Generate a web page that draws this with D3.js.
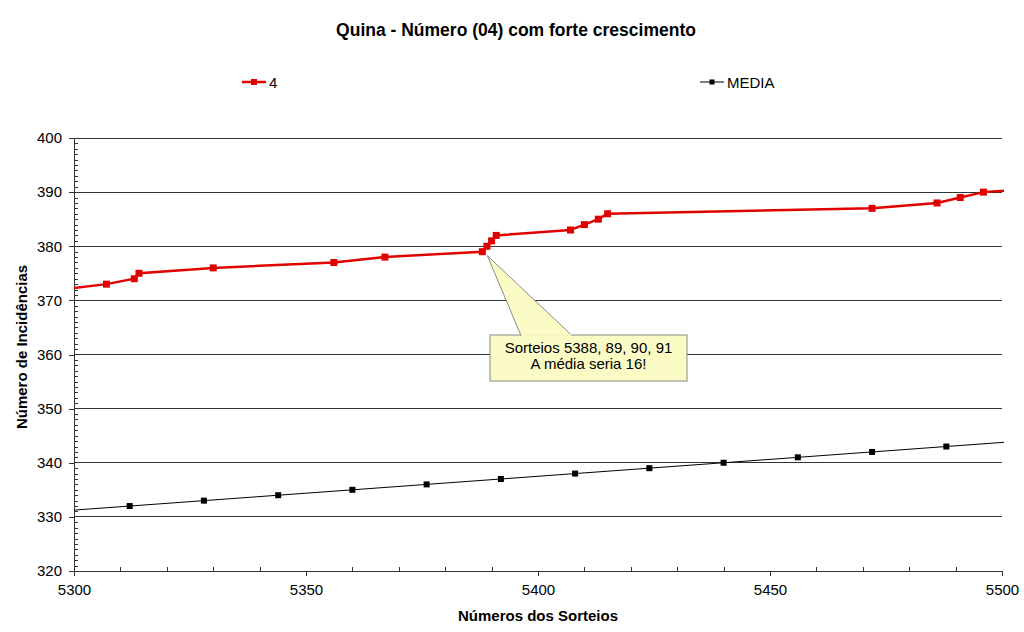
<!DOCTYPE html>
<html><head><meta charset="utf-8">
<script src="https://cdn.jsdelivr.net/npm/d3@7"></script>
<style>body{margin:0;background:#fff}svg{font-family:"Liberation Sans",Arial,sans-serif}</style>
</head><body>
<svg id="c" width="1024" height="632"></svg>
<script>
const title = "Quina - Número (04) com forte crescimento";
const xTitle = "Números dos Sorteios";
const yTitle = "Número de Incidências";
const seriesNames = ["4", "MEDIA"];
// series "4": draw number, incidence count (first/last points lie outside the axis range)
const redX = [5297, 5307, 5313, 5314, 5330, 5356, 5367, 5388, 5389, 5390, 5391, 5407, 5410, 5413, 5415, 5472, 5486, 5491, 5496, 5515];
const redY = [372, 373, 374, 375, 376, 377, 378, 379, 380, 381, 382, 383, 384, 385, 386, 387, 388, 389, 390, 391];
// series "MEDIA"
const avgX = [5296, 5312, 5328, 5344, 5360, 5376, 5392, 5408, 5424, 5440, 5456, 5472, 5488, 5504];
const avgY = [331, 332, 333, 334, 335, 336, 337, 338, 339, 340, 341, 342, 343, 344];
const xTicks = [5300, 5350, 5400, 5450, 5500];
const yTicks = [320, 330, 340, 350, 360, 370, 380, 390, 400];
const calloutLines = ["Sorteios 5388, 89, 90, 91", "A média seria 16!"];

const svg = d3.select("#c");
const L = 74, R = 1002, T = 138, B = 571;
const x = d3.scaleLinear().domain([5300, 5500]).range([L, R]);
const y = d3.scaleLinear().domain([320, 400]).range([B, T]);

svg.append("defs").append("clipPath").attr("id","clip")
  .append("rect").attr("x", L).attr("y", T - 5).attr("width", R - L + 2).attr("height", B - T + 10);

// gridlines
svg.append("g").selectAll("line").data(yTicks.filter(v => v > 320)).join("line")
  .attr("x1", L).attr("x2", R).attr("y1", d => y(d)).attr("y2", d => y(d))
  .attr("stroke", "#333").attr("stroke-width", 1).attr("shape-rendering","crispEdges");

// axes
const xAxis = svg.append("g").attr("transform", `translate(0,${B})`)
  .call(d3.axisBottom(x).tickValues(xTicks).tickFormat(d3.format("d")).tickSizeInner(5).tickSizeOuter(0).tickPadding(8));
const xMinor = svg.append("g").attr("transform", `translate(0,${B})`)
  .call(d3.axisBottom(x).tickValues(d3.range(5300, 5501, 10).filter(v => v % 50)).tickSize(-4).tickFormat(""));
const yAxis = svg.append("g").attr("transform", `translate(${L},0)`)
  .call(d3.axisLeft(y).tickValues(yTicks).tickSizeInner(5).tickSizeOuter(0).tickPadding(7));
const yMinor = svg.append("g").attr("transform", `translate(${L},0)`)
  .call(d3.axisLeft(y).tickValues(d3.range(320, 401, 1).filter(v => v % 10)).tickSize(-4).tickFormat(""));
[xAxis, yAxis].forEach(g => {
  g.selectAll("text").attr("font-size", 15).attr("fill", "#000").attr("font-family", "Liberation Sans, Arial, sans-serif");
});
[xAxis, yAxis, xMinor, yMinor].forEach(g => {
  g.selectAll("path,line").attr("stroke", "#333").attr("shape-rendering","crispEdges");
});
xMinor.select(".domain").remove(); yMinor.select(".domain").remove();

// lines
const red = redX.map((v, i) => [v, redY[i]]);
const avg = avgX.map((v, i) => [v, avgY[i]]);
const line = d3.line().x(d => x(d[0])).y(d => y(d[1]));
const plot = svg.append("g").attr("clip-path", "url(#clip)");
plot.append("path").datum(avg).attr("d", line).attr("fill", "none").attr("stroke", "#000").attr("stroke-width", 1);
plot.append("path").datum(red).attr("d", line).attr("fill", "none").attr("stroke", "#e00000").attr("stroke-width", 2.5);
const inDom = d => d[0] > 5300 && d[0] < 5500;
plot.selectAll(".ma").data(avg.filter(inDom)).join("rect").attr("class","ma")
  .attr("x", d => x(d[0]) - 3).attr("y", d => y(d[1]) - 3).attr("width", 6).attr("height", 6).attr("fill", "#000");
plot.selectAll(".mr").data(red.filter(inDom)).join("rect").attr("class","mr")
  .attr("x", d => x(d[0]) - 3.5).attr("y", d => y(d[1]) - 3.5).attr("width", 7).attr("height", 7).attr("fill", "#e00000");

// title
svg.append("text").attr("x", 516).attr("y", 36).attr("text-anchor", "middle")
  .attr("font-size", 17.5).attr("font-weight", "bold").text(title);
svg.append("text").attr("x", 538).attr("y", 621).attr("text-anchor", "middle")
  .attr("font-size", 15).attr("font-weight", "bold").text(xTitle);
svg.append("text").attr("transform", "translate(27,347) rotate(-90)").attr("text-anchor", "middle")
  .attr("font-size", 15).attr("font-weight", "bold").text(yTitle);

// legend
const leg = [{name: seriesNames[0], c: "#e00000", w: 2.5, x0: 242, s: 6}, {name: seriesNames[1], c: "#000", w: 1, x0: 700, s: 5}];
leg.forEach(l => {
  const g = svg.append("g");
  g.append("line").attr("x1", l.x0).attr("x2", l.x0 + 24).attr("y1", 82).attr("y2", 82).attr("stroke", l.c).attr("stroke-width", l.w);
  g.append("rect").attr("x", l.x0 + 12 - l.s/2).attr("y", 82 - l.s/2).attr("width", l.s).attr("height", l.s).attr("fill", l.c);
  g.append("text").attr("x", l.x0 + 27).attr("y", 88).attr("font-size", 15).text(l.name);
});

// callout
const tipX = x(5388) + 5, tipY = y(379) + 4;
const bx = 490, by = 335, bw = 197, bh = 46;
const cg = svg.append("g");
cg.append("rect").attr("x", bx).attr("y", by).attr("width", bw).attr("height", bh)
  .attr("fill", "#fbfbc6").attr("stroke", "#8a8a8a").attr("stroke-width", 1);
cg.append("path").attr("d", `M${bx + 31},${by + 0.5} L${tipX},${tipY} L${bx + 82},${by + 0.5}`)
  .attr("fill", "#fbfbc6").attr("stroke", "#8a8a8a").attr("stroke-width", 1);
cg.append("line").attr("x1", bx + 31.5).attr("x2", bx + 81.5).attr("y1", by).attr("y2", by)
  .attr("stroke", "#fbfbc6").attr("stroke-width", 1.5);
calloutLines.forEach((t, i) => {
  cg.append("text").attr("x", bx + bw / 2).attr("y", by + 18 + i * 16).attr("text-anchor", "middle")
    .attr("font-size", 15).text(t);
});
</script>
</body></html>
